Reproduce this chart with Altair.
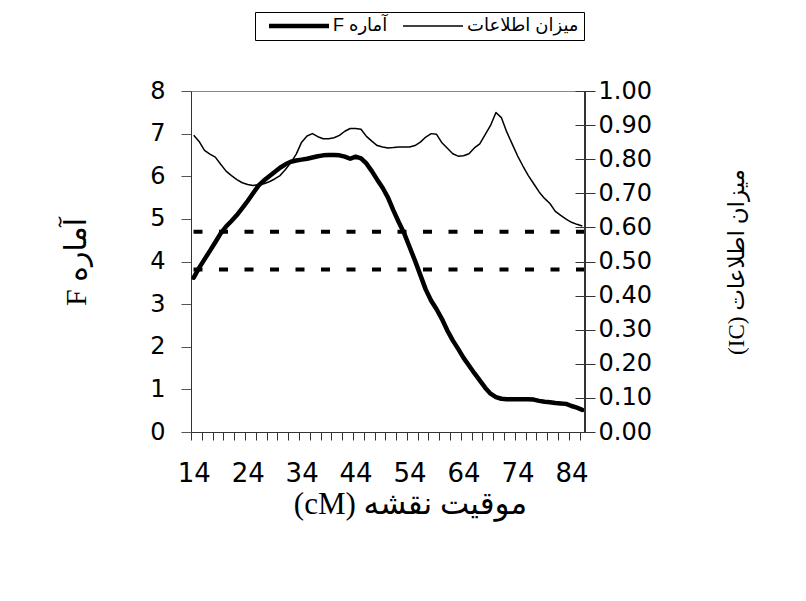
import json
import altair as alt
import pandas as pd

# ---- data ----
positions = list(range(14, 87))  # map position (cM)
f_values = [3.62, 3.85, 4.05, 4.25, 4.45, 4.66, 4.82, 4.95, 5.09, 5.25,
            5.42, 5.60, 5.78, 5.90, 6.00, 6.10, 6.20, 6.28, 6.34, 6.37,
            6.39, 6.41, 6.44, 6.47, 6.49, 6.50, 6.50, 6.49, 6.46, 6.41,
            6.46, 6.42, 6.30, 6.12, 5.92, 5.73, 5.50, 5.20, 4.92, 4.66,
            4.34, 4.02, 3.68, 3.34, 3.08, 2.88, 2.65, 2.38, 2.15, 1.95,
            1.74, 1.56, 1.38, 1.21, 1.04, 0.90, 0.82, 0.78, 0.77, 0.77,
            0.77, 0.77, 0.77, 0.76, 0.73, 0.71, 0.70, 0.68, 0.67, 0.66,
            0.61, 0.57, 0.52]
ic_values = [0.870, 0.852, 0.826, 0.815, 0.806, 0.785, 0.765, 0.752, 0.740, 0.731,
             0.726, 0.723, 0.725, 0.728, 0.734, 0.742, 0.752, 0.770, 0.790, 0.815,
             0.850, 0.868, 0.875, 0.866, 0.860, 0.860, 0.863, 0.870, 0.882, 0.890,
             0.890, 0.888, 0.867, 0.853, 0.840, 0.836, 0.833, 0.834, 0.836, 0.836,
             0.836, 0.840, 0.850, 0.865, 0.875, 0.873, 0.848, 0.832, 0.816, 0.809,
             0.810, 0.816, 0.833, 0.845, 0.872, 0.899, 0.937, 0.922, 0.880, 0.845,
             0.810, 0.780, 0.752, 0.728, 0.704, 0.685, 0.670, 0.647, 0.635, 0.624,
             0.615, 0.609, 0.604]
thresholds = [4.7, 3.81]
f_ticks = [0, 1, 2, 3, 4, 5, 6, 7, 8]
ic_ticks = [0.0, 0.1, 0.2, 0.3, 0.4, 0.5, 0.6, 0.7, 0.8, 0.9, 1.0]
x_minor_ticks = [13.5 + 2 * k for k in range(37)]
x_label_values = [14, 24, 34, 44, 54, 64, 74, 84]
series_keys = ["F", "IC"]
series_labels = ["F آماره", "میزان اطلاعات"]

x_title = "(cM) موقیت نقشه"
left_title = "F آماره"
right_title = "(IC) میزان اطلاعات"

df = pd.DataFrame({"cM": positions, "F": f_values, "IC": ic_values})
thr_df = pd.DataFrame({"F": thresholds})
edge_df = pd.DataFrame({"cM": [86.5], "F": [0], "F2": [8]})

SANS = "Liberation Sans, Arial, DejaVu Sans"
WIDE = "DejaVu Sans"
SERIF = "Liberation Serif, Times New Roman, DejaVu Sans"

label_expr = ("indexof(" + json.dumps(x_label_values) +
              ", datum.value + 0.5) >= 0 ? format(datum.value + 0.5, 'd') : ''")

x_scale = alt.Scale(domain=[13.5, 86.5], nice=False, zero=False)
x_axis = alt.Axis(values=x_minor_ticks, labelExpr=label_expr, labelOffset=2.7,
                  tickSize=8, labelFontSize=26, labelFont=WIDE, labelPadding=20,
                  labelOverlap=False, labelFlush=False, grid=False,
                  domainColor="#333", tickColor="#333", labelColor="black",
                  title=x_title, titleFont=SERIF, titleFontSize=31,
                  titleFontWeight="normal", titlePadding=3, titleX=219,
                  titleColor="black")

left_axis = alt.Axis(values=f_ticks, orient="left", tickSize=10, format="d",
                     labelFontSize=24, labelFont=WIDE, labelPadding=16,
                     labelColor="black", grid=False, domainColor="#333",
                     tickColor="#555", title=left_title, titleFont=SERIF,
                     titleFontSize=30, titleFontWeight="normal", titleAngle=270,
                     titlePadding=58, titleColor="black")

right_axis = alt.Axis(values=ic_ticks, orient="right", offset=-10, tickSize=20,
                      format=".2f", labelFontSize=24, labelFont=WIDE,
                      labelPadding=3, labelColor="black", domain=False,
                      grid=False, tickColor="#333", title=right_title,
                      titleFont=SERIF, titleFontSize=23, titleFontWeight="normal",
                      titleAngle=270, titlePadding=97, titleColor="black")

sw_label_expr = ("datum.value == 'F' ? " + json.dumps(series_labels[0]) +
                 " : " + json.dumps(series_labels[1]))
legend = alt.Legend(title=None, orient="none", legendX=64, legendY=-79,
                    direction="horizontal", symbolType="M0,0H20", symbolSize=36,
                    symbolStrokeColor="black", labelExpr=sw_label_expr,
                    labelFont=SANS, labelFontSize=18, labelColor="black",
                    labelOffset=55, columnPadding=6, strokeColor="black",
                    fillColor="white", padding=5, labelLimit=0)

sw_scale = alt.Scale(domain=series_keys, range=[4.5, 1.5])

f_line = alt.Chart(df).transform_calculate(series="'F'").mark_line(
    color="black", strokeJoin="round", strokeCap="round").encode(
    x=alt.X("cM:Q", scale=x_scale, axis=x_axis),
    y=alt.Y("F:Q", scale=alt.Scale(domain=[0, 8], nice=False), axis=left_axis),
    strokeWidth=alt.StrokeWidth("series:N", scale=sw_scale, legend=legend),
)

rules = alt.Chart(thr_df).mark_rule(color="black", strokeWidth=4,
                                    strokeDash=[9, 16.5]).encode(
    y=alt.Y("F:Q", axis=left_axis),
)

edge = alt.Chart(edge_df).mark_rule(color="#333", strokeWidth=2).encode(
    x=alt.X("cM:Q", axis=x_axis),
    y=alt.Y("F:Q", axis=left_axis),
    y2="F2:Q",
)

ic_line = alt.Chart(df).transform_calculate(series="'IC'").mark_line(
    color="black", strokeJoin="round").encode(
    x=alt.X("cM:Q", scale=x_scale, axis=x_axis),
    y=alt.Y("IC:Q", scale=alt.Scale(domain=[0, 1], nice=False), axis=right_axis),
    strokeWidth=alt.StrokeWidth("series:N", scale=sw_scale, legend=legend),
)

left_group = alt.layer(rules, f_line, edge)
chart = alt.layer(left_group, ic_line).resolve_scale(y="independent").properties(
    width=394, height=341,
    padding={"left": 183, "top": 83, "right": 200, "bottom": 150},
    autosize=alt.AutoSizeParams(type="none"),
    background="white",
).configure_view(stroke="#888", strokeWidth=1)

chart.save("out.html", embed_options={"renderer": "svg", "actions": False})
